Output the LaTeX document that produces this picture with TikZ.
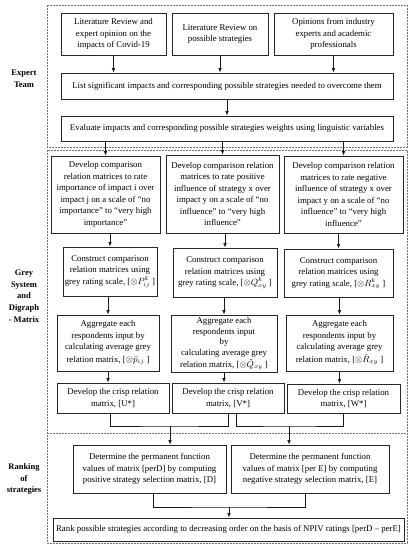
\documentclass[tikz,border=0pt]{standalone}
\usepackage{fontspec}
\setmainfont{Liberation Serif}
\usetikzlibrary{arrows.meta}
\tikzset{
  bx/.style={draw=black!85, line width=0.75pt, align=center, inner xsep=1pt, inner ysep=0.5pt,
    font=\fontsize{8.8}{11.5}\selectfont},
  lab/.style={align=center, font=\fontsize{8.5}{11.7}\selectfont\bfseries},
  arr/.style={-{Latex[length=4.5pt,width=3.6pt]}, line width=0.8pt, draw=black!90},
  ln/.style={line width=0.8pt, draw=black!90},
  frame/.style={draw=black!55, line width=0.5pt, dash pattern=on 1.6pt off 1.4pt}
}
\begin{document}
\begin{tikzpicture}[x=1pt,y=-1pt]
\useasboundingbox[fill=white] (0,0) rectangle (416,550);
% frames
\draw[frame] (47,5) rectangle (407,147);
\draw[frame] (47,150) rectangle (407,543);
\draw[frame] (47,433) -- (407,433);
% labels
\node[lab] (lab1) at (24,79) {Expert\\Team};
\node[lab] (lab2) at (24,296) {Grey\\System\\and\\Digraph\\- Matrix};
\node[lab] (lab3) at (24,479) {Ranking\\of\\strategies};
% row 1
\node[bx, minimum width=105pt, minimum height=42pt] (B1) at (113.5,34) {Literature Review and\\expert opinion on the\\impacts of Covid-19};
\node[bx, minimum width=96pt, minimum height=42pt] (B2) at (220,34) {Literature Review on\\possible strategies};
\node[bx, minimum width=119pt, minimum height=42pt] (B3) at (333.5,34) {Opinions from industry\\experts and academic\\professionals};
\node[bx, minimum width=332pt, minimum height=26pt] (L) at (227,86) {List significant impacts and corresponding possible strategies needed to overcome them};
\node[bx, minimum width=332pt, minimum height=25pt] (Ev) at (227,128.5) {Evaluate impacts and corresponding possible strategies weights using linguistic variables};
% row C
\node[bx, minimum width=109pt, minimum height=77pt] (C1) at (105.5,194.5) {Develop comparison\\relation matrices to rate\\importance of impact i over\\impact j on a scale of “no\\importance” to “very high\\importance”};
\node[bx, minimum width=113pt, minimum height=78pt] (C2) at (222.5,194) {Develop comparison relation\\matrices to rate positive\\influence of strategy x over\\impact y on a scale of “no\\influence” to “very high\\influence”};
\node[bx, minimum width=119pt, minimum height=77pt] (C3) at (343.5,194.5) {Develop comparison relation\\matrices to rate negative\\influence of strategy x over\\impact y on a scale of “no\\influence” to “very high\\influence”};
% row D
\node[bx, minimum width=94pt, minimum height=49pt] (D1) at (110,271.5) {Construct comparison\\relation matrices using\\grey rating scale, [$\otimes P^{k}_{ij}$ ]};
\node[bx, minimum width=104pt, minimum height=49pt] (D2) at (225,272.5) {Construct comparison\\relation matrices using\\grey rating scale, [$\otimes Q^{k}_{xy}$ ]};
\node[bx, minimum width=109pt, minimum height=48pt] (D3) at (338.5,273) {Construct comparison\\relation matrices using\\grey rating scale, [$\otimes R^{k}_{xy}$ ]};
% row E
\node[bx, minimum width=102pt, minimum height=56pt] (E1) at (108,343) {Aggregate each\\respondents input by\\calculating average grey\\[1.5pt]relation matrix, [$\otimes\bar{p}_{ij}$ ]};
\node[bx, minimum width=106pt, minimum height=57pt, font=\fontsize{8.8}{10.6}\selectfont] (E2) at (224,343.5) {Aggregate each\\respondents input\\by\\calculating average grey\\[1.5pt]relation matrix, [$\otimes\tilde{Q}_{xy}$ ]};
\node[bx, minimum width=107pt, minimum height=56pt] (E3) at (339.5,343) {Aggregate each\\respondents input by\\calculating average grey\\[1.5pt]relation matrix, [$\otimes\hat{R}_{xy}$ ]};
% row F
\node[bx, minimum width=112pt, minimum height=30pt] (F1) at (113,398) {Develop the crisp relation\\matrix, [U*]};
\node[bx, minimum width=112pt, minimum height=30pt] (F2) at (228,398) {Develop the crisp relation\\matrix, [V*]};
\node[bx, minimum width=113pt, minimum height=29pt] (F3) at (343.5,398.5) {Develop the crisp relation\\matrix, [W*]};
% row G
\node[bx, minimum width=153pt, minimum height=48pt] (G1) at (149.5,469) {Determine the permanent function\\values of matrix [perD] by computing\\positive strategy selection matrix, [D]};
\node[bx, minimum width=158pt, minimum height=48pt] (G2) at (310,469) {Determine the permanent function\\values of matrix [per E] by computing\\negative strategy selection matrix, [E]};
\node[bx, minimum width=351pt, minimum height=23pt] (H) at (228.5,529.5) {Rank possible strategies according to decreasing order on the basis of NPIV ratings [perD – perE]};
% join points
\coordinate (j1) at (170,426);
\coordinate (j2) at (289,426);
\coordinate (j3) at (229,507);
% connectors
\draw[arr] (B1.south) -- (B1.south |- L.north);
\draw[arr] (B2.south) -- (B2.south |- L.north);
\draw[arr] (B3.south) -- (B3.south |- L.north);
\draw[arr] (L.south) -- (L.south |- Ev.north);
\draw[arr] (C1.north |- Ev.south) -- (C1.north);
\draw[arr] (C2.north |- Ev.south) -- (C2.north);
\draw[arr] (C3.north |- Ev.south) -- (C3.north);
\draw[arr] (D1.north |- C1.south) -- (D1.north);
\draw[arr] (D2.north |- C2.south) -- (D2.north);
\draw[arr] (D3.north |- C3.south) -- (D3.north);
\draw[arr] (E1.north |- D1.south) -- (E1.north);
\draw[arr] (E2.north |- D2.south) -- (E2.north);
\draw[arr] (E3.north |- D3.south) -- (E3.north);
\draw[arr] (E1.south) -- (E1.south |- F1.north);
\draw[arr] (E2.south) -- (E2.south |- F2.north);
\draw[arr] (E3.south) -- (E3.south |- F3.north);
\draw[ln] ([xshift=-3pt]F1.south) |- (j1) -| (F2.south);
\draw[ln] ([xshift=8pt]F2.south) |- (j2) -| (F3.south);
\draw[arr] (j1) -- (j1 |- G1.north);
\draw[arr] (j2) -- (j2 |- G2.north);
\draw[ln] ([xshift=3.5pt]G1.south) |- (j3) -| ([xshift=-5pt]G2.south);
\draw[arr] (j3) -- (j3 |- H.north);
\end{tikzpicture}
\end{document}
